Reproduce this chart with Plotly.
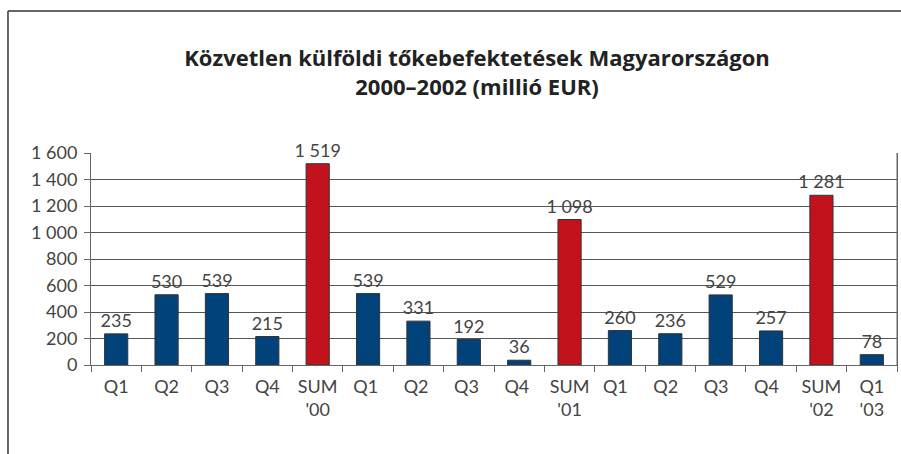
import plotly.graph_objects as go

categories = ["Q1", "Q2", "Q3", "Q4", "SUM<br>'00", "Q1 ", "Q2 ", "Q3 ", "Q4 ", "SUM<br>'01",
              "Q1  ", "Q2  ", "Q3  ", "Q4  ", "SUM<br>'02", "Q1<br>'03"]
values = [235, 530, 539, 215, 1519, 539, 331, 192, 36, 1098, 260, 236, 529, 257, 1281, 78]
is_sum = [False, False, False, False, True, False, False, False, False, True,
          False, False, False, False, True, False]
value_labels = ["235", "530", "539", "215", "1 519", "539", "331", "192", "36", "1 098",
                "260", "236", "529", "257", "1 281", "78"]
y_tickvals = [0, 200, 400, 600, 800, 1000, 1200, 1400, 1600]
y_ticktext = ["0", "200", "400", "600", "800", "1 000", "1 200", "1 400", "1 600"]

BLUE = "#02427a"
RED = "#c2121c"
colors = [RED if s else BLUE for s in is_sum]

FONT = "Lato, 'Open Sans', sans-serif"
TFONT = "'Open Sans', Lato, sans-serif"

fig = go.Figure(go.Bar(
    x=categories, y=values,
    marker=dict(color=colors, line=dict(color="#333333", width=1)),
    text=value_labels, textposition="outside", cliponaxis=False,
    constraintext="none",
    textfont=dict(family=FONT, size=18, color="#444444"),
    width=0.46, hoverinfo="skip",
))

fig.update_layout(
    width=901, height=454,
    margin=dict(l=91, r=4, t=153, b=89, autoexpand=False),
    paper_bgcolor="white", plot_bgcolor="white",
    showlegend=False,
    title=dict(
        text="Közvetlen külföldi tőkebefektetések Magyarországon<br>2000–2002 (millió EUR)",
        x=477 / 901, xanchor="center", y=1 - 66 / 454, yanchor="top",
        font=dict(family=TFONT, size=22, color="#222222", weight="bold"),
    ),
    xaxis=dict(
        type="category", showline=True, linecolor="#666666", linewidth=1,
        ticks="outside", tickson="boundaries", ticklen=6, tickcolor="#666666",
        tickfont=dict(family=FONT, size=18, color="#444444"),
        ticklabelstandoff=5,
        showgrid=False,
    ),
    yaxis=dict(
        range=[0, 1600], tickvals=y_tickvals, ticktext=y_ticktext,
        showline=True, mirror=True, linecolor="#666666", linewidth=1,
        ticks="outside", ticklen=6, tickcolor="#666666",
        tickfont=dict(family=FONT, size=18, color="#444444"),
        ticklabelstandoff=3,
        showgrid=True, gridcolor="#555555", gridwidth=1,
        zeroline=False,
    ),
    shapes=[
        dict(type="line", xref="paper", yref="paper", x0=-0.103, x1=1.02, y0=1.67, y1=1.67,
             line=dict(color="#666666", width=2)),
        dict(type="line", xref="paper", yref="paper", x0=-0.103, x1=-0.103, y0=1.67, y1=-0.45,
             line=dict(color="#333333", width=1.5)),
        dict(type="line", xref="paper", yref="paper", x0=1, x1=1, y0=0, y1=1,
             line=dict(color="#666666", width=1)),
    ],
)

fig.write_html("out.html", config={"displayModeBar": False},
               post_script="document.body.style.margin='0';document.body.style.overflow='hidden';")
